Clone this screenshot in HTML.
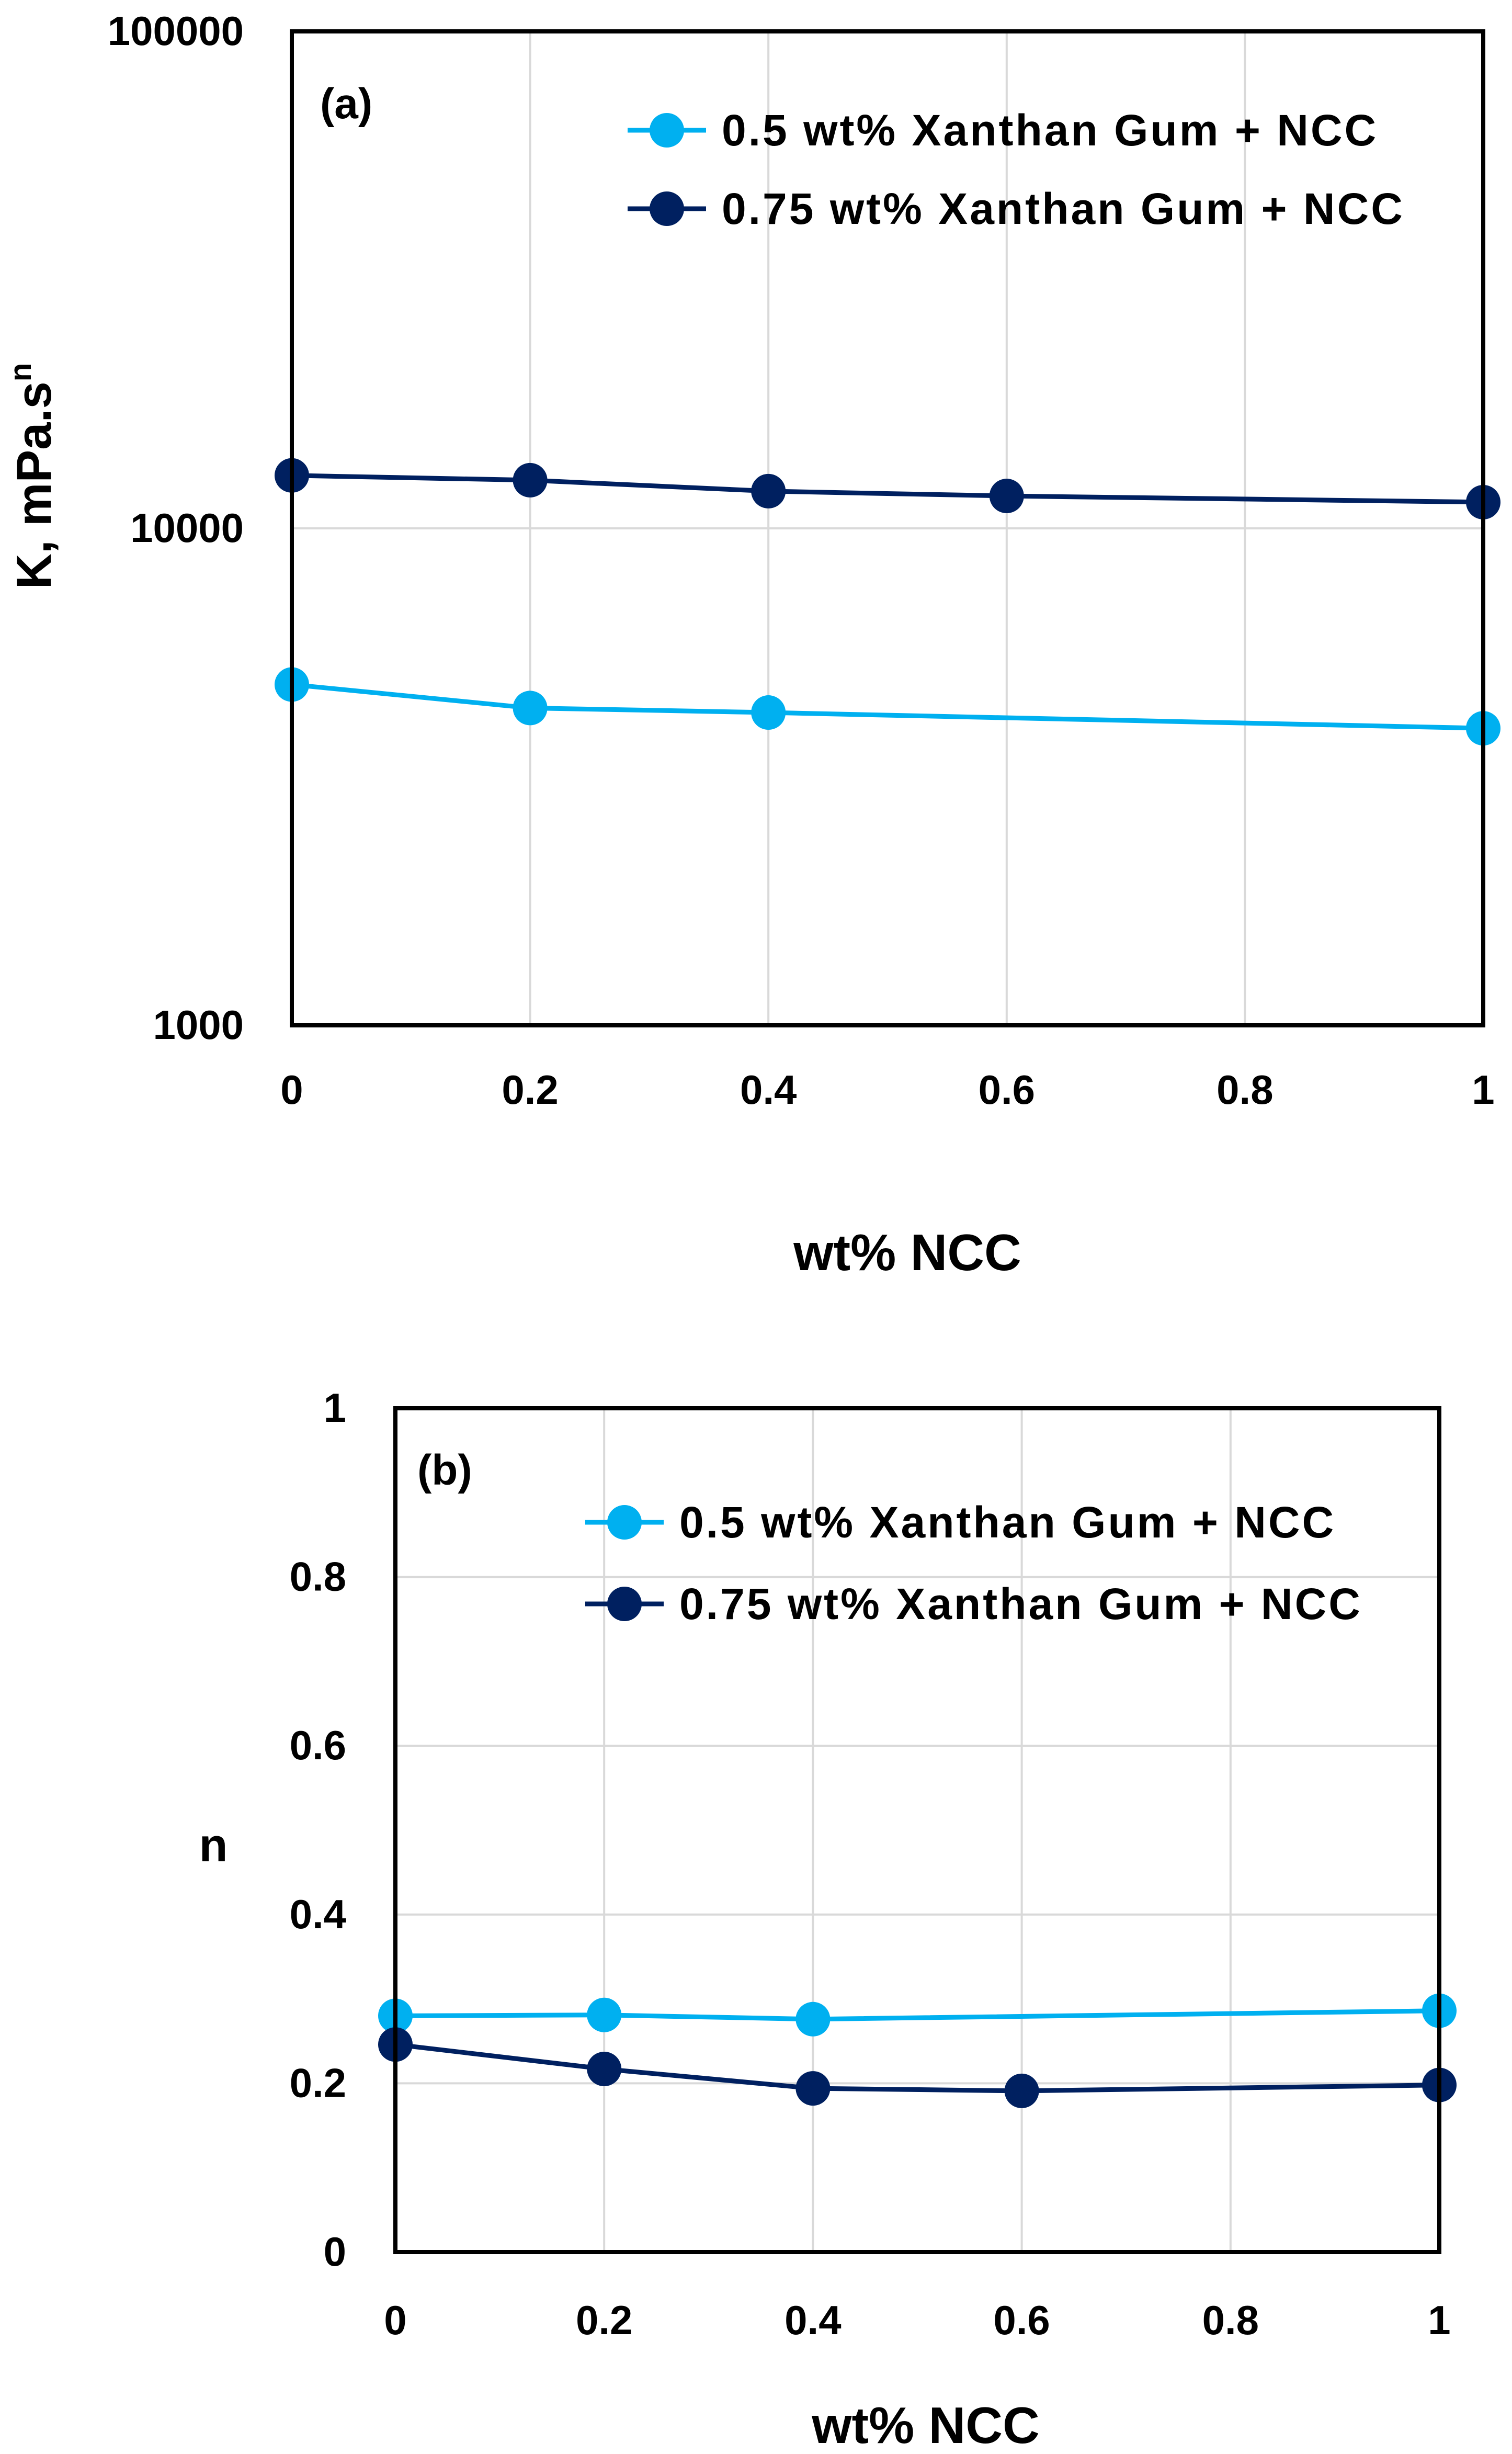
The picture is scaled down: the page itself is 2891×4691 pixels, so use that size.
<!DOCTYPE html>
<html><head><meta charset="utf-8"><style>
html,body{margin:0;padding:0;background:#fff}
svg{display:block}
text{font-family:"Liberation Sans",sans-serif;font-weight:bold;fill:#000}
</style></head><body>
<svg id="c" width="2891" height="4691" viewBox="0 0 2891 4691" xmlns="http://www.w3.org/2000/svg"></svg>
<script>
const xTicks=[0,0.2,0.4,0.6,0.8,1];
const xTickLabels=["0","0.2","0.4","0.6","0.8","1"];
const aYTicks=[1000,10000,100000];
const aYTickLabels=["1000","10000","100000"];
const aLightX=[0,0.2,0.4,1];
const aLightY=[4850,4350,4260,3960];
const aDarkX=[0,0.2,0.4,0.6,1];
const aDarkY=[12780,12500,11880,11620,11290];
const bYTicks=[0,0.2,0.4,0.6,0.8,1];
const bYTickLabels=["0","0.2","0.4","0.6","0.8","1"];
const bLightX=[0,0.2,0.4,1];
const bLightY=[0.28,0.281,0.276,0.286];
const bDarkX=[0,0.2,0.4,0.6,1];
const bDarkY=[0.246,0.217,0.194,0.191,0.198];
const legendLabels=["0.5 wt% Xanthan Gum + NCC","0.75 wt% Xanthan Gum + NCC"];
const LIGHT="#00B0F0",DARK="#002060";
const svg=document.getElementById('c');
const NS="http://www.w3.org/2000/svg";
function mk(tag,attrs,parent){const e=document.createElementNS(NS,tag);for(const k in attrs)e.setAttribute(k,attrs[k]);(parent||svg).appendChild(e);return e;}

function drawChart(cfg){
  const g=mk('g',{});
  
  
  const sx=v=>cfg.L+(v-0)/(1-0)*(cfg.R-cfg.L);
  const sy=cfg.sy;
  xTicks.forEach(t=>{if(t===0||t===1)return;
    const l=mk('line',{x1:sx(t),x2:sx(t),y1:cfg.T,y2:cfg.B,stroke:'#d9d9d9','stroke-width':4},g);
    
    
  });
  cfg.yTicks.forEach(t=>{const y=sy(t);if(Math.abs(y-cfg.T)<2||Math.abs(y-cfg.B)<2)return;
    const l=mk('line',{x1:cfg.L,x2:cfg.R,y1:y,y2:y,stroke:'#d9d9d9','stroke-width':4},g);
    
    
  });
  cfg.series.forEach(s=>{
    const pts=s.x.map((xv,i)=>sx(xv)+','+sy(s.y[i])).join(' ');
    const pl=mk('polyline',{points:pts,fill:'none',stroke:s.color,'stroke-width':9,'stroke-linejoin':'round'},g);
    
    
    s.x.forEach((xv,i)=>{
      const c=mk('circle',{cx:sx(xv),cy:sy(s.y[i]),r:33,fill:s.color},g);
      
      
    });
  });
  const fr=mk('rect',{x:cfg.L,y:cfg.T,width:cfg.R-cfg.L,height:cfg.B-cfg.T,fill:'none',stroke:'#000','stroke-width':8},g);
  
  
  xTicks.forEach((t,i)=>{
    const tx=mk('text',{x:sx(t),y:cfg.xLabelY,'text-anchor':'middle','font-size':78},g);
    tx.textContent=xTickLabels[i];
    
    
  });
  cfg.yTicks.forEach((t,i)=>{
    const tx=mk('text',{x:cfg.yLabelX,y:sy(t)+26,'text-anchor':'end','font-size':78},g);
    tx.textContent=cfg.yTickLabels[i];
    
    
  });
  const pl=mk('text',{x:cfg.panelX,y:cfg.panelY,'font-size':82},g);
  pl.textContent=cfg.panel;
  
  
  cfg.series.forEach((s,i)=>{
    const y=cfg.legY[i];
    const lg=mk('g',{},g);
    
    
    mk('line',{x1:cfg.legX-75,x2:cfg.legX+75,y1:y,y2:y,stroke:s.color,'stroke-width':9},lg);
    mk('circle',{cx:cfg.legX,cy:y,r:33,fill:s.color},lg);
    const t=mk('text',{x:cfg.legX+105,y:y+29,'font-size':84,'letter-spacing':4},lg);
    t.textContent=legendLabels[i];
  });
  const xt=mk('text',{x:cfg.xTitleX,y:cfg.xTitleY,'text-anchor':'middle','font-size':98},g);
  xt.textContent='wt% NCC';
  
  
  return g;
}

const aT=60,aB=1960;
drawChart({name:'chart-a',L:558,R:2836,T:aT,B:aB,
  sy:v=>aB-(Math.log10(v)-3)/2*(aB-aT),
  yTicks:aYTicks,yTickLabels:aYTickLabels,yLabelX:466,xLabelY:2110,
  panel:'(a)',panelX:612,panelY:226,legX:1275,legY:[249,399],
  xTitleX:1735,xTitleY:2428,
  series:[{name:'light-series',x:aLightX,y:aLightY,color:LIGHT},{name:'dark-series',x:aDarkX,y:aDarkY,color:DARK}]});
const ya=mk('text',{x:0,y:0,'text-anchor':'middle','font-size':94,transform:'translate(97,910) rotate(-90)'});
ya.innerHTML='K, mPa.s<tspan dy="-38" font-size="58">n</tspan>';



const bT=2692,bB=4305;
drawChart({name:'chart-b',L:756,R:2752,T:bT,B:bB,
  sy:v=>bB-v*(bB-bT),
  yTicks:bYTicks,yTickLabels:bYTickLabels,yLabelX:662,xLabelY:4462,
  panel:'(b)',panelX:798,panelY:2838,legX:1194,legY:[2910,3066],
  xTitleX:1770,xTitleY:4670,
  series:[{name:'light-series',x:bLightX,y:bLightY,color:LIGHT},{name:'dark-series',x:bDarkX,y:bDarkY,color:DARK}]});
const yb=mk('text',{x:408,y:3558,'text-anchor':'middle','font-size':90});
yb.textContent='n';


</script>
</body></html>
